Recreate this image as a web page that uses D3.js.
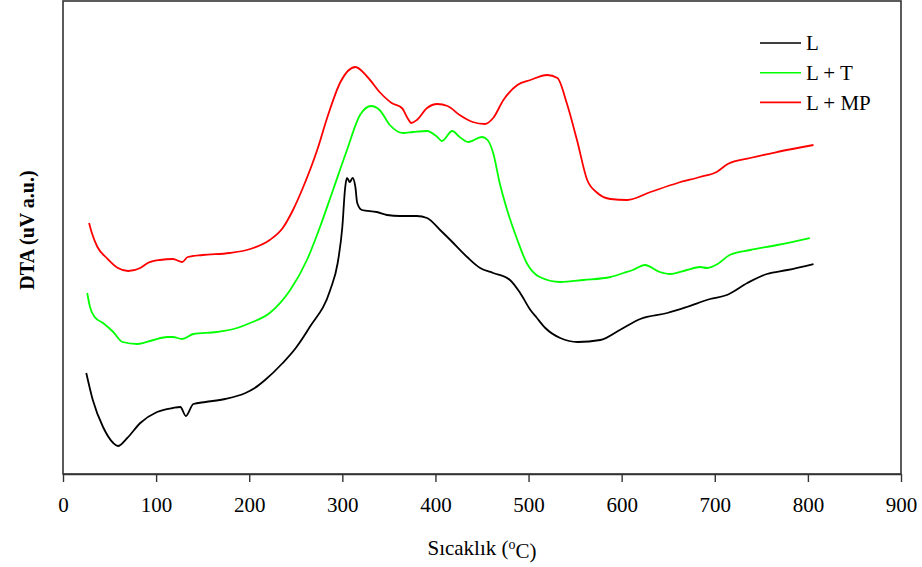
<!DOCTYPE html>
<html>
<head>
<meta charset="utf-8">
<script src="https://cdn.jsdelivr.net/npm/d3@7"></script>
<style>
  body { margin: 0; background: #fff; }
  text { font-family: "Liberation Serif", "Times New Roman", serif; }
</style>
</head>
<body>
<div id="chart"></div>
<script>
// temperature (°C) and DTA signal (a.u.)
var tempL = [25, 32, 43, 54, 59, 69, 83, 101, 118, 126, 132, 140, 153, 174, 196, 206, 217, 236, 250, 265, 287, 295, 300, 303, 305, 308, 311, 314, 316, 321, 337, 348, 362, 380, 391, 405, 416, 434, 448, 462, 480, 491, 502, 509, 518, 534, 553, 577, 598, 620, 649, 670, 695, 713, 735, 756, 778, 806];
var dtaL = [10.1, 7.4, 4.7, 3.1, 2.8, 3.6, 5.1, 6.2, 6.6, 6.7, 5.8, 7.0, 7.2, 7.5, 8.1, 8.6, 9.4, 11.1, 12.6, 14.7, 18.4, 21.1, 24.7, 28.6, 29.6, 29.2, 29.6, 28.7, 27.1, 26.4, 26.2, 25.9, 25.8, 25.8, 25.6, 24.4, 23.4, 21.7, 20.6, 20.1, 19.4, 18.1, 16.4, 15.6, 14.6, 13.6, 13.2, 13.4, 14.4, 15.5, 16.1, 16.7, 17.5, 17.9, 19.1, 20.0, 20.4, 21.0];

var tempLT = [26, 29, 34, 43, 54, 64, 80, 97, 112, 118, 128, 140, 165, 187, 201, 222, 244, 262, 276, 290, 305, 319, 331, 340, 351, 365, 376, 391, 402, 407, 418, 426, 435, 450, 456, 462, 469, 477, 488, 498, 512, 534, 559, 588, 602, 612, 625, 641, 652, 670, 684, 692, 703, 716, 738, 767, 802];
var dtaLT = [18.1, 16.7, 15.7, 15.1, 14.2, 13.2, 13.0, 13.4, 13.7, 13.7, 13.5, 14.0, 14.2, 14.6, 15.1, 16.1, 18.4, 21.4, 24.7, 28.4, 32.4, 35.9, 36.8, 36.4, 34.9, 34.1, 34.2, 34.3, 33.7, 33.3, 34.3, 33.7, 33.2, 33.7, 33.4, 32.1, 29.1, 26.4, 23.4, 21.1, 19.7, 19.2, 19.4, 19.7, 20.1, 20.4, 20.9, 20.2, 20.0, 20.4, 20.7, 20.6, 21.0, 21.9, 22.4, 22.9, 23.6];

var tempLMP = [28, 31, 37, 47, 59, 70, 83, 91, 104, 118, 128, 134, 150, 179, 201, 222, 236, 247, 258, 273, 284, 298, 314, 327, 341, 353, 364, 370, 374, 380, 391, 402, 413, 426, 440, 453, 462, 473, 488, 502, 520, 531, 541, 552, 563, 574, 588, 606, 631, 660, 684, 702, 714, 738, 767, 806];
var dtaLMP = [25.1, 24.1, 22.7, 21.6, 20.6, 20.3, 20.6, 21.1, 21.4, 21.5, 21.2, 21.7, 21.9, 22.1, 22.5, 23.4, 24.6, 26.4, 28.7, 32.4, 35.7, 39.2, 40.7, 39.7, 38.1, 37.1, 36.6, 35.6, 35.1, 35.4, 36.6, 37.0, 36.8, 35.9, 35.2, 35.0, 35.6, 37.4, 38.9, 39.4, 39.9, 39.6, 37.1, 33.4, 29.4, 28.1, 27.5, 27.4, 28.2, 29.1, 29.7, 30.2, 31.0, 31.6, 32.2, 32.9];

var seriesNames = ["L", "L + T", "L + MP"];
var seriesColors = ["#000000", "#00ff00", "#ff0000"];
var xTicks = [0, 100, 200, 300, 400, 500, 600, 700, 800, 900];

var svgWidth = 922, svgHeight = 567;
var margin = { top: 1, right: 21, bottom: 93, left: 63 };
var width = svgWidth - margin.left - margin.right;
var height = svgHeight - margin.top - margin.bottom;

var svg = d3.select("#chart").append("svg")
    .attr("width", svgWidth)
    .attr("height", svgHeight);

var chartGroup = svg.append("g")
    .attr("transform", `translate(${margin.left}, ${margin.top})`);

var xScale = d3.scaleLinear().domain([0, 900]).range([0, width]);
var yScale = d3.scaleLinear().domain([0, 47.3]).range([height, 0]);

var series = [
    { name: seriesNames[0], color: seriesColors[0], data: tempL.map((t, i) => [t, dtaL[i]]) },
    { name: seriesNames[1], color: seriesColors[1], data: tempLT.map((t, i) => [t, dtaLT[i]]) },
    { name: seriesNames[2], color: seriesColors[2], data: tempLMP.map((t, i) => [t, dtaLMP[i]]) }
];

var line = d3.line()
    .x(d => xScale(d[0]))
    .y(d => yScale(d[1]))
    .curve(d3.curveMonotoneX);

chartGroup.selectAll(".curve")
    .data(series)
    .enter()
    .append("path")
    .attr("class", "curve")
    .attr("d", d => line(d.data))
    .attr("fill", "none")
    .attr("stroke", d => d.color)
    .attr("stroke-width", 1.8);

// frame
chartGroup.append("rect")
    .attr("x", 0).attr("y", 0)
    .attr("width", width).attr("height", height)
    .attr("fill", "none")
    .attr("stroke", "#333")
    .attr("stroke-width", 1.6);

var xAxis = d3.axisBottom(xScale).tickValues(xTicks).tickSize(8).tickSizeOuter(0);
var xg = chartGroup.append("g")
    .attr("transform", `translate(0, ${height})`)
    .call(xAxis);
xg.select(".domain").attr("stroke", "#333").attr("stroke-width", 1.6);
xg.selectAll(".tick line").attr("stroke", "#333").attr("stroke-width", 1.4);
xg.selectAll(".tick text")
    .attr("y", 23)
    .attr("dy", "0.71em")
    .attr("fill", "#000")
    .style("font-size", "21px")
    .style("font-family", "Liberation Serif, serif");

// legend
var legend = chartGroup.append("g")
    .attr("transform", `translate(${760 - margin.left}, ${43 - margin.top})`);
series.forEach(function (s, i) {
    legend.append("line")
        .attr("x1", 0).attr("x2", 41)
        .attr("y1", i * 29.7).attr("y2", i * 29.7)
        .attr("stroke", s.color)
        .attr("stroke-width", 1.6);
    legend.append("text")
        .attr("x", 46)
        .attr("y", i * 29.7)
        .attr("dy", "0.35em")
        .style("font-size", "21px")
        .text(s.name);
});

// axis labels
var xLabel = svg.append("text")
    .attr("x", 482)
    .attr("y", 555)
    .attr("text-anchor", "middle")
    .style("font-size", "21px");
xLabel.append("tspan").text("Sıcaklık (");
xLabel.append("tspan").attr("dy", "-0.45em").style("font-size", "14px").text("o");
xLabel.append("tspan").attr("dy", "0.45em").text("C)");

svg.append("text")
    .attr("transform", "translate(34, 230) rotate(-90)")
    .attr("text-anchor", "middle")
    .style("font-size", "20px")
    .style("font-weight", "bold")
    .text("DTA (uV a.u.)");
</script>
</body>
</html>
